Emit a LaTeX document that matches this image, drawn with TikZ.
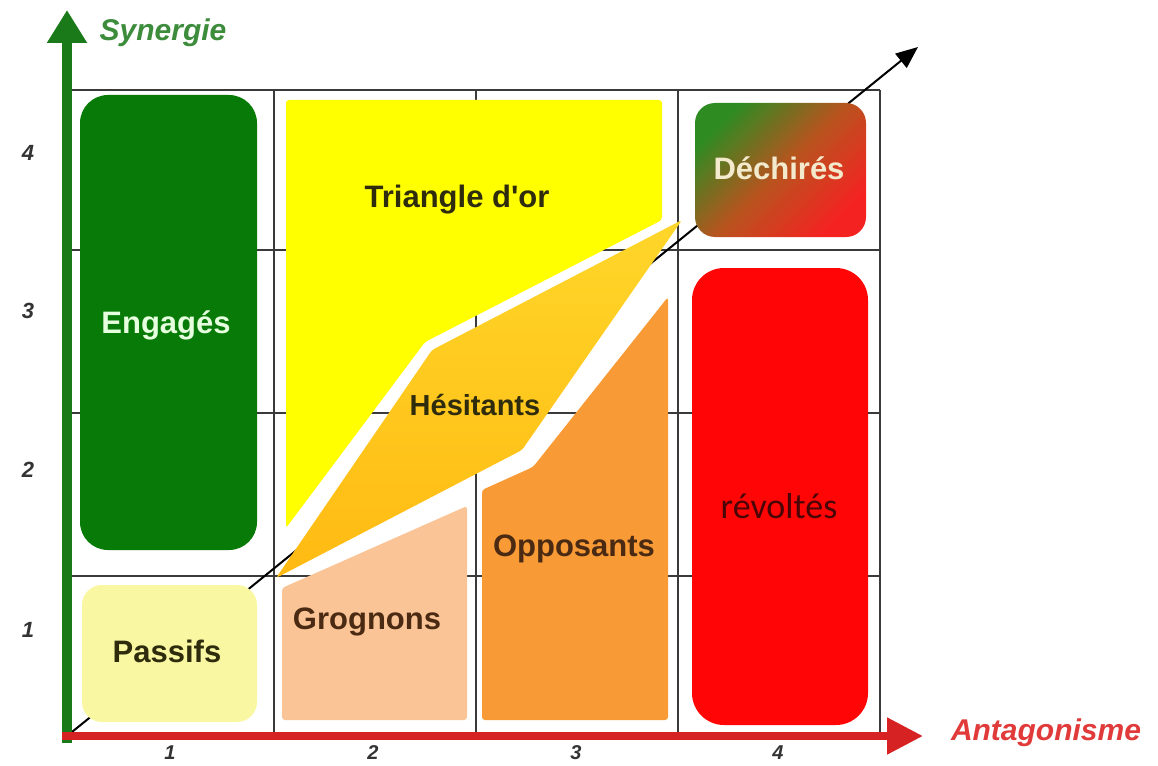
\documentclass[tikz,border=0pt]{standalone}
\usepackage{fontspec}
\setmainfont{Liberation Sans}[Ligatures=TeXOff]
\newfontfamily\calibrifont{Carlito}
\usetikzlibrary{arrows.meta}

\definecolor{axisgreen}{HTML}{1A7A1A}
\definecolor{axisred}{HTML}{D62222}
\definecolor{gridgray}{HTML}{3A3A3A}
\definecolor{engfill}{HTML}{077A07}
\definecolor{passfill}{HTML}{FAF7A2}
\definecolor{trifill}{HTML}{FFFF00}
\definecolor{hestop}{HTML}{FFD62A}
\definecolor{hesbot}{HTML}{FFBA12}
\definecolor{grofill}{HTML}{FAC496}
\definecolor{oppfill}{HTML}{F89A36}
\definecolor{decgreen}{HTML}{2E8B22}
\definecolor{decmid}{HTML}{B8541E}
\definecolor{decred}{HTML}{F52222}
\definecolor{revfill}{HTML}{FF0505}
\definecolor{synlabel}{HTML}{3C8C3C}
\definecolor{antlabel}{HTML}{E03A3A}
\definecolor{numgray}{HTML}{333333}
\definecolor{darktext}{HTML}{2E2C0C}
\definecolor{browntext}{HTML}{4A2A12}
\definecolor{lighttext}{HTML}{F3E9CC}
\definecolor{engtext}{HTML}{E6FFDE}
\definecolor{revtext}{HTML}{4A0606}

\begin{document}
\begin{tikzpicture}[x=1pt,y=-1pt,
  gridline/.style={draw=gridgray, line width=2.5pt},
  diagline/.style={draw=black, line width=2pt, -{Triangle[width=18pt,length=22pt]}},
  yaxisline/.style={draw=axisgreen, line width=10pt, -{Triangle[width=38pt,length=33pt]}},
  xaxisline/.style={draw=axisred, line width=8pt, -{Triangle[width=35pt,length=36pt]}},
  boxlabel/.style={font=\fontsize{31}{31}\selectfont\bfseries, inner sep=0pt},
  axisnum/.style={font=\fontsize{22}{22}\selectfont\bfseries\itshape, text=numgray, inner sep=0pt},
  axistitle/.style={font=\fontsize{30}{30}\selectfont\bfseries\itshape, inner sep=0pt}
]
\useasboundingbox (0,0) rectangle (1158,765);

% grid of 4 x 4 cells
\foreach \x in {274,476,678,880} \draw[gridline] (\x,90) -- (\x,736);
\foreach \y in {90,250,413,576} \draw[gridline] (72,\y) -- (880,\y);

% key points of the axes
\coordinate (O) at (67,736);
\coordinate (ybase) at (67,743);
\coordinate (ytop) at (67,10);
\coordinate (xbase) at (62,736);
\coordinate (xend) at (923,736);
\coordinate (dend) at (918,47);

% diagonal trend arrow, mostly hidden under the zones
\draw[diagline] (O) -- (dend);

% zones
\fill[engfill, rounded corners=28pt] (80,95) rectangle (257,550);
\fill[passfill, rounded corners=20pt] (82,585) rectangle (257,722);
\fill[trifill, rounded corners=3pt] (286,100) -- (662,100) -- (662,220) -- (425,342) -- (286,528) -- cycle;
\shade[top color=hestop, bottom color=hesbot, rounded corners=3pt]
  (276,578) -- (432,350) -- (682,220) -- (522,450) -- cycle;
\fill[grofill, rounded corners=3pt] (282,588) -- (467,506) -- (467,720) -- (282,720) -- cycle;
\fill[oppfill, rounded corners=3pt] (482,490) -- (533,467) -- (668,297) -- (668,720) -- (482,720) -- cycle;
\shade[rounded corners=20pt, top color=decgreen, bottom color=decred, middle color=decmid, shading angle=45]
  (695,103) rectangle (866,237);
\fill[revfill, rounded corners=32pt] (692,268) rectangle (868,725);

% axes
\draw[yaxisline] (ybase) -- (ytop);
\draw[xaxisline] (xbase) -- (xend);

% axis titles
\node[axistitle, text=synlabel] (syn) at (163,33) {Synergie};
\node[axistitle, text=antlabel] (ant) at (1046,733) {Antagonisme};

% axis graduations
\node[axisnum] (y4) at (28,153) {4};
\node[axisnum] (y3) at (28,311) {3};
\node[axisnum] (y2) at (28,470) {2};
\node[axisnum] (y1) at (28,630) {1};
\node[axisnum, font=\fontsize{20}{20}\selectfont\bfseries\itshape] (x1) at (170,753) {1};
\node[axisnum, font=\fontsize{20}{20}\selectfont\bfseries\itshape] (x2) at (373,753) {2};
\node[axisnum, font=\fontsize{20}{20}\selectfont\bfseries\itshape] (x3) at (576,753) {3};
\node[axisnum, font=\fontsize{20}{20}\selectfont\bfseries\itshape] (x4) at (778,753) {4};

% zone labels
\node[boxlabel, text=engtext] (engages) at (166,325) {Engagés};
\node[boxlabel, text=darktext] (passifs) at (167,651) {Passifs};
\node[boxlabel, text=darktext] (triangle) at (457,200) {Triangle d'or};
\node[boxlabel, text=darktext, font=\fontsize{29}{29}\selectfont\bfseries] (hesitants) at (475,405) {Hésitants};
\node[boxlabel, text=browntext] (grognons) at (367,622) {Grognons};
\node[boxlabel, text=browntext] (opposants) at (574,549) {Opposants};
\node[boxlabel, text=lighttext] (dechires) at (779,168) {Déchirés};
\node[font=\fontsize{36}{36}\selectfont\calibrifont, text=revtext, inner sep=0pt] (revoltes) at (779,506) {révoltés};
\end{tikzpicture}
\end{document}
